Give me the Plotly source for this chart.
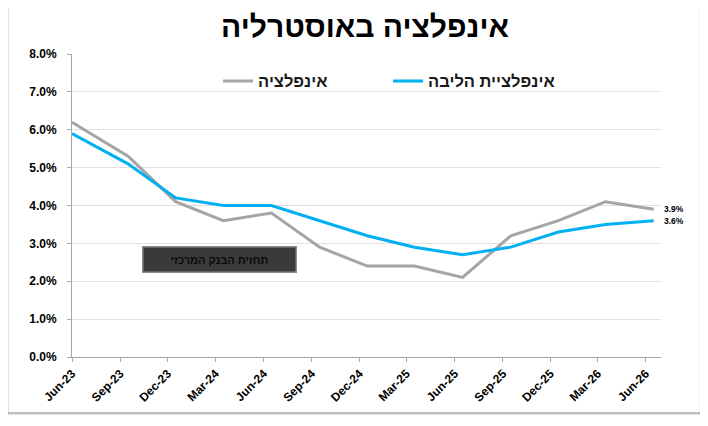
import plotly.graph_objects as go

# quarterly points (first at start of month, rest mid-month as in the source chart)
dates = ["2023-06-01", "2023-09-16", "2023-12-16", "2024-03-16", "2024-06-16",
         "2024-09-16", "2024-12-16", "2025-03-16", "2025-06-16", "2025-09-16",
         "2025-12-16", "2026-03-16", "2026-06-16"]
inflation = [6.2, 5.3, 4.1, 3.6, 3.8, 2.9, 2.4, 2.4, 2.1, 3.2, 3.6, 4.1, 3.9]
core_inflation = [5.9, 5.1, 4.2, 4.0, 4.0, 3.6, 3.2, 2.9, 2.7, 2.9, 3.3, 3.5, 3.6]

tick_dates = ["2023-06-01", "2023-09-01", "2023-12-01", "2024-03-01", "2024-06-01",
              "2024-09-01", "2024-12-01", "2025-03-01", "2025-06-01", "2025-09-01",
              "2025-12-01", "2026-03-01", "2026-06-01"]
tick_labels = ["Jun-23", "Sep-23", "Dec-23", "Mar-24", "Jun-24", "Sep-24", "Dec-24",
               "Mar-25", "Jun-25", "Sep-25", "Dec-25", "Mar-26", "Jun-26"]
y_ticks = [0, 1, 2, 3, 4, 5, 6, 7, 8]

title_text = "אינפלציה באוסטרליה"
name_infl = "אינפלציה"
name_core = "אינפלציית הליבה"
box_text = "תחזית הבנק המרכזי"

GRAY = "#a5a5a5"
BLUE = "#00b0f0"
FONT = "Liberation Sans, Arial, sans-serif"

fig = go.Figure()
fig.add_trace(go.Scatter(x=dates, y=inflation, name=name_infl, mode="lines",
                         line=dict(color=GRAY, width=3)))
fig.add_trace(go.Scatter(x=dates, y=core_inflation, name=name_core, mode="lines",
                         line=dict(color=BLUE, width=3)))

# value labels at the last point of each series
for series in (inflation, core_inflation):
    fig.add_annotation(x=dates[-1], y=series[-1], text="<b>%.1f%%</b>" % series[-1],
                       showarrow=False, xanchor="left", yanchor="middle", xshift=8,
                       font=dict(size=8.5, color="black", family=FONT))

# outer frame
fig.add_shape(type="rect", xref="paper", yref="paper",
              x0=-0.110, x1=1.068, y0=-0.186, y1=1.165,
              line=dict(color="#bfbfbf", width=2.5), fillcolor="rgba(0,0,0,0)")

# dark forecast box
fig.add_annotation(
    xref="paper", yref="paper", x=0.2506, y=0.321,
    xanchor="center", yanchor="middle",
    text="<b>" + box_text + "</b>", showarrow=False,
    font=dict(size=11, color="#0a0a0a", family=FONT),
    bgcolor="#3a3a3a", bordercolor="#8c8c8c", borderwidth=1.5,
    width=150, height=22,
)

# page body has an 8px margin, so the figure is a little smaller than the window
fig.update_layout(
    width=700, height=418,
    margin=dict(l=64, r=47, t=46, b=69),
    paper_bgcolor="white", plot_bgcolor="white",
    title=dict(text="<b>" + title_text + "</b>", x=0.51, xanchor="center",
               y=0.955, yanchor="middle",
               font=dict(size=30, color="black", family=FONT)),
    legend=dict(orientation="h", x=0.248, y=0.91, xanchor="left", yanchor="middle",
                font=dict(size=16.5, color="#1a1a1a", family=FONT, weight="bold"),
                entrywidth=125, entrywidthmode="pixels",
                bgcolor="rgba(0,0,0,0)"),
    showlegend=True,
)

fig.update_xaxes(
    type="date", range=["2023-06-01", "2026-06-30"],
    tickvals=tick_dates, ticktext=tick_labels, tickangle=-45,
    tickfont=dict(size=12, color="black", family=FONT, weight="bold"),
    showgrid=False, showline=True, linecolor="#a6a6a6", linewidth=1,
    ticks="outside", ticklen=4, tickcolor="#a6a6a6",
    zeroline=False,
)
fig.update_yaxes(
    range=[0, 8], tickvals=y_ticks,
    ticktext=["%.1f%%" % v for v in y_ticks],
    tickfont=dict(size=12, color="black", family=FONT, weight="bold"),
    ticklabelstandoff=8,
    showgrid=True, gridcolor="#e0e0e0", gridwidth=1,
    showline=True, linecolor="#a6a6a6", linewidth=1,
    ticks="outside", ticklen=4, tickcolor="#a6a6a6",
    zeroline=False,
)

fig.write_html("out.html")
